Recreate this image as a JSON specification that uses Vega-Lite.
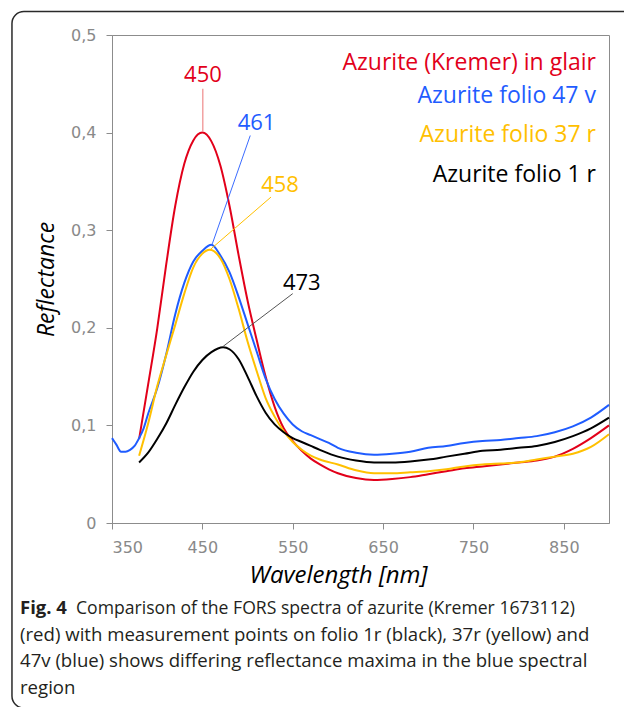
{
  "$schema": "https://vega.github.io/schema/vega-lite/v6.json",
  "width": 497,
  "height": 488,
  "autosize": {"type": "none"},
  "padding": {"left": 112, "top": 35, "right": 15, "bottom": 184},
  "background": "white",
  "config": {
    "view": {"stroke": "#8c8c8c", "strokeWidth": 1},
    "axis": {
      "grid": false,
      "domainColor": "#8c8c8c",
      "tickColor": "#8c8c8c",
      "tickSize": 6,
      "labelFont": "DejaVu Sans",
      "labelFontSize": 16,
      "labelColor": "#898989",
      "labelPadding": 10,
      "titleFont": "Open Sans",
      "titleFontSize": 23,
      "titleFontWeight": "normal",
      "titleFontStyle": "italic",
      "titleColor": "#000000"
    },
    "text": {"font": "Open Sans"}
  },
  "datasets": {
    "spectra": [
      {"series": "Azurite (Kremer) in glair", "wavelength": 380, "reflectance": 0.086},
      {"series": "Azurite (Kremer) in glair", "wavelength": 390, "reflectance": 0.142},
      {"series": "Azurite (Kremer) in glair", "wavelength": 400, "reflectance": 0.199},
      {"series": "Azurite (Kremer) in glair", "wavelength": 410, "reflectance": 0.265},
      {"series": "Azurite (Kremer) in glair", "wavelength": 420, "reflectance": 0.325},
      {"series": "Azurite (Kremer) in glair", "wavelength": 430, "reflectance": 0.368},
      {"series": "Azurite (Kremer) in glair", "wavelength": 440, "reflectance": 0.392},
      {"series": "Azurite (Kremer) in glair", "wavelength": 450, "reflectance": 0.400},
      {"series": "Azurite (Kremer) in glair", "wavelength": 460, "reflectance": 0.391},
      {"series": "Azurite (Kremer) in glair", "wavelength": 470, "reflectance": 0.366},
      {"series": "Azurite (Kremer) in glair", "wavelength": 480, "reflectance": 0.325},
      {"series": "Azurite (Kremer) in glair", "wavelength": 490, "reflectance": 0.275},
      {"series": "Azurite (Kremer) in glair", "wavelength": 500, "reflectance": 0.228},
      {"series": "Azurite (Kremer) in glair", "wavelength": 510, "reflectance": 0.188},
      {"series": "Azurite (Kremer) in glair", "wavelength": 520, "reflectance": 0.150},
      {"series": "Azurite (Kremer) in glair", "wavelength": 530, "reflectance": 0.119},
      {"series": "Azurite (Kremer) in glair", "wavelength": 540, "reflectance": 0.097},
      {"series": "Azurite (Kremer) in glair", "wavelength": 550, "reflectance": 0.084},
      {"series": "Azurite (Kremer) in glair", "wavelength": 560, "reflectance": 0.074},
      {"series": "Azurite (Kremer) in glair", "wavelength": 570, "reflectance": 0.066},
      {"series": "Azurite (Kremer) in glair", "wavelength": 580, "reflectance": 0.060},
      {"series": "Azurite (Kremer) in glair", "wavelength": 590, "reflectance": 0.055},
      {"series": "Azurite (Kremer) in glair", "wavelength": 600, "reflectance": 0.051},
      {"series": "Azurite (Kremer) in glair", "wavelength": 620, "reflectance": 0.046},
      {"series": "Azurite (Kremer) in glair", "wavelength": 640, "reflectance": 0.044},
      {"series": "Azurite (Kremer) in glair", "wavelength": 660, "reflectance": 0.045},
      {"series": "Azurite (Kremer) in glair", "wavelength": 680, "reflectance": 0.047},
      {"series": "Azurite (Kremer) in glair", "wavelength": 700, "reflectance": 0.050},
      {"series": "Azurite (Kremer) in glair", "wavelength": 720, "reflectance": 0.053},
      {"series": "Azurite (Kremer) in glair", "wavelength": 740, "reflectance": 0.056},
      {"series": "Azurite (Kremer) in glair", "wavelength": 760, "reflectance": 0.058},
      {"series": "Azurite (Kremer) in glair", "wavelength": 780, "reflectance": 0.060},
      {"series": "Azurite (Kremer) in glair", "wavelength": 800, "reflectance": 0.062},
      {"series": "Azurite (Kremer) in glair", "wavelength": 820, "reflectance": 0.064},
      {"series": "Azurite (Kremer) in glair", "wavelength": 840, "reflectance": 0.068},
      {"series": "Azurite (Kremer) in glair", "wavelength": 860, "reflectance": 0.076},
      {"series": "Azurite (Kremer) in glair", "wavelength": 880, "reflectance": 0.087},
      {"series": "Azurite (Kremer) in glair", "wavelength": 900, "reflectance": 0.100},

      {"series": "Azurite folio 47 v", "wavelength": 350, "reflectance": 0.087},
      {"series": "Azurite folio 47 v", "wavelength": 355, "reflectance": 0.080},
      {"series": "Azurite folio 47 v", "wavelength": 360, "reflectance": 0.073},
      {"series": "Azurite folio 47 v", "wavelength": 365, "reflectance": 0.073},
      {"series": "Azurite folio 47 v", "wavelength": 370, "reflectance": 0.075},
      {"series": "Azurite folio 47 v", "wavelength": 375, "reflectance": 0.079},
      {"series": "Azurite folio 47 v", "wavelength": 380, "reflectance": 0.087},
      {"series": "Azurite folio 47 v", "wavelength": 385, "reflectance": 0.097},
      {"series": "Azurite folio 47 v", "wavelength": 390, "reflectance": 0.112},
      {"series": "Azurite folio 47 v", "wavelength": 400, "reflectance": 0.138},
      {"series": "Azurite folio 47 v", "wavelength": 410, "reflectance": 0.173},
      {"series": "Azurite folio 47 v", "wavelength": 420, "reflectance": 0.214},
      {"series": "Azurite folio 47 v", "wavelength": 430, "reflectance": 0.246},
      {"series": "Azurite folio 47 v", "wavelength": 440, "reflectance": 0.268},
      {"series": "Azurite folio 47 v", "wavelength": 450, "reflectance": 0.279},
      {"series": "Azurite folio 47 v", "wavelength": 460, "reflectance": 0.285},
      {"series": "Azurite folio 47 v", "wavelength": 470, "reflectance": 0.274},
      {"series": "Azurite folio 47 v", "wavelength": 480, "reflectance": 0.257},
      {"series": "Azurite folio 47 v", "wavelength": 490, "reflectance": 0.232},
      {"series": "Azurite folio 47 v", "wavelength": 500, "reflectance": 0.204},
      {"series": "Azurite folio 47 v", "wavelength": 510, "reflectance": 0.176},
      {"series": "Azurite folio 47 v", "wavelength": 520, "reflectance": 0.148},
      {"series": "Azurite folio 47 v", "wavelength": 530, "reflectance": 0.127},
      {"series": "Azurite folio 47 v", "wavelength": 540, "reflectance": 0.112},
      {"series": "Azurite folio 47 v", "wavelength": 550, "reflectance": 0.101},
      {"series": "Azurite folio 47 v", "wavelength": 560, "reflectance": 0.094},
      {"series": "Azurite folio 47 v", "wavelength": 570, "reflectance": 0.090},
      {"series": "Azurite folio 47 v", "wavelength": 580, "reflectance": 0.086},
      {"series": "Azurite folio 47 v", "wavelength": 590, "reflectance": 0.082},
      {"series": "Azurite folio 47 v", "wavelength": 600, "reflectance": 0.077},
      {"series": "Azurite folio 47 v", "wavelength": 620, "reflectance": 0.072},
      {"series": "Azurite folio 47 v", "wavelength": 640, "reflectance": 0.070},
      {"series": "Azurite folio 47 v", "wavelength": 660, "reflectance": 0.071},
      {"series": "Azurite folio 47 v", "wavelength": 680, "reflectance": 0.073},
      {"series": "Azurite folio 47 v", "wavelength": 700, "reflectance": 0.077},
      {"series": "Azurite folio 47 v", "wavelength": 720, "reflectance": 0.079},
      {"series": "Azurite folio 47 v", "wavelength": 740, "reflectance": 0.082},
      {"series": "Azurite folio 47 v", "wavelength": 760, "reflectance": 0.084},
      {"series": "Azurite folio 47 v", "wavelength": 780, "reflectance": 0.085},
      {"series": "Azurite folio 47 v", "wavelength": 800, "reflectance": 0.087},
      {"series": "Azurite folio 47 v", "wavelength": 820, "reflectance": 0.089},
      {"series": "Azurite folio 47 v", "wavelength": 840, "reflectance": 0.093},
      {"series": "Azurite folio 47 v", "wavelength": 860, "reflectance": 0.099},
      {"series": "Azurite folio 47 v", "wavelength": 880, "reflectance": 0.108},
      {"series": "Azurite folio 47 v", "wavelength": 900, "reflectance": 0.121},

      {"series": "Azurite folio 37 r", "wavelength": 380, "reflectance": 0.069},
      {"series": "Azurite folio 37 r", "wavelength": 390, "reflectance": 0.102},
      {"series": "Azurite folio 37 r", "wavelength": 400, "reflectance": 0.140},
      {"series": "Azurite folio 37 r", "wavelength": 410, "reflectance": 0.172},
      {"series": "Azurite folio 37 r", "wavelength": 420, "reflectance": 0.203},
      {"series": "Azurite folio 37 r", "wavelength": 430, "reflectance": 0.235},
      {"series": "Azurite folio 37 r", "wavelength": 440, "reflectance": 0.262},
      {"series": "Azurite folio 37 r", "wavelength": 450, "reflectance": 0.276},
      {"series": "Azurite folio 37 r", "wavelength": 458, "reflectance": 0.280},
      {"series": "Azurite folio 37 r", "wavelength": 470, "reflectance": 0.271},
      {"series": "Azurite folio 37 r", "wavelength": 480, "reflectance": 0.250},
      {"series": "Azurite folio 37 r", "wavelength": 490, "reflectance": 0.220},
      {"series": "Azurite folio 37 r", "wavelength": 500, "reflectance": 0.186},
      {"series": "Azurite folio 37 r", "wavelength": 510, "reflectance": 0.156},
      {"series": "Azurite folio 37 r", "wavelength": 520, "reflectance": 0.128},
      {"series": "Azurite folio 37 r", "wavelength": 530, "reflectance": 0.109},
      {"series": "Azurite folio 37 r", "wavelength": 540, "reflectance": 0.094},
      {"series": "Azurite folio 37 r", "wavelength": 550, "reflectance": 0.083},
      {"series": "Azurite folio 37 r", "wavelength": 560, "reflectance": 0.075},
      {"series": "Azurite folio 37 r", "wavelength": 570, "reflectance": 0.069},
      {"series": "Azurite folio 37 r", "wavelength": 580, "reflectance": 0.065},
      {"series": "Azurite folio 37 r", "wavelength": 600, "reflectance": 0.060},
      {"series": "Azurite folio 37 r", "wavelength": 620, "reflectance": 0.054},
      {"series": "Azurite folio 37 r", "wavelength": 640, "reflectance": 0.051},
      {"series": "Azurite folio 37 r", "wavelength": 660, "reflectance": 0.051},
      {"series": "Azurite folio 37 r", "wavelength": 680, "reflectance": 0.052},
      {"series": "Azurite folio 37 r", "wavelength": 700, "reflectance": 0.053},
      {"series": "Azurite folio 37 r", "wavelength": 720, "reflectance": 0.055},
      {"series": "Azurite folio 37 r", "wavelength": 740, "reflectance": 0.058},
      {"series": "Azurite folio 37 r", "wavelength": 760, "reflectance": 0.060},
      {"series": "Azurite folio 37 r", "wavelength": 780, "reflectance": 0.061},
      {"series": "Azurite folio 37 r", "wavelength": 800, "reflectance": 0.062},
      {"series": "Azurite folio 37 r", "wavelength": 820, "reflectance": 0.065},
      {"series": "Azurite folio 37 r", "wavelength": 840, "reflectance": 0.068},
      {"series": "Azurite folio 37 r", "wavelength": 860, "reflectance": 0.071},
      {"series": "Azurite folio 37 r", "wavelength": 880, "reflectance": 0.078},
      {"series": "Azurite folio 37 r", "wavelength": 900, "reflectance": 0.091},

      {"series": "Azurite folio 1 r", "wavelength": 380, "reflectance": 0.062},
      {"series": "Azurite folio 1 r", "wavelength": 390, "reflectance": 0.072},
      {"series": "Azurite folio 1 r", "wavelength": 400, "reflectance": 0.086},
      {"series": "Azurite folio 1 r", "wavelength": 410, "reflectance": 0.102},
      {"series": "Azurite folio 1 r", "wavelength": 420, "reflectance": 0.121},
      {"series": "Azurite folio 1 r", "wavelength": 430, "reflectance": 0.139},
      {"series": "Azurite folio 1 r", "wavelength": 440, "reflectance": 0.155},
      {"series": "Azurite folio 1 r", "wavelength": 450, "reflectance": 0.167},
      {"series": "Azurite folio 1 r", "wavelength": 460, "reflectance": 0.175},
      {"series": "Azurite folio 1 r", "wavelength": 473, "reflectance": 0.180},
      {"series": "Azurite folio 1 r", "wavelength": 480, "reflectance": 0.178},
      {"series": "Azurite folio 1 r", "wavelength": 490, "reflectance": 0.168},
      {"series": "Azurite folio 1 r", "wavelength": 500, "reflectance": 0.150},
      {"series": "Azurite folio 1 r", "wavelength": 510, "reflectance": 0.130},
      {"series": "Azurite folio 1 r", "wavelength": 520, "reflectance": 0.113},
      {"series": "Azurite folio 1 r", "wavelength": 530, "reflectance": 0.101},
      {"series": "Azurite folio 1 r", "wavelength": 540, "reflectance": 0.093},
      {"series": "Azurite folio 1 r", "wavelength": 550, "reflectance": 0.087},
      {"series": "Azurite folio 1 r", "wavelength": 560, "reflectance": 0.083},
      {"series": "Azurite folio 1 r", "wavelength": 570, "reflectance": 0.079},
      {"series": "Azurite folio 1 r", "wavelength": 580, "reflectance": 0.075},
      {"series": "Azurite folio 1 r", "wavelength": 600, "reflectance": 0.068},
      {"series": "Azurite folio 1 r", "wavelength": 620, "reflectance": 0.064},
      {"series": "Azurite folio 1 r", "wavelength": 640, "reflectance": 0.062},
      {"series": "Azurite folio 1 r", "wavelength": 660, "reflectance": 0.062},
      {"series": "Azurite folio 1 r", "wavelength": 680, "reflectance": 0.063},
      {"series": "Azurite folio 1 r", "wavelength": 700, "reflectance": 0.065},
      {"series": "Azurite folio 1 r", "wavelength": 720, "reflectance": 0.068},
      {"series": "Azurite folio 1 r", "wavelength": 740, "reflectance": 0.071},
      {"series": "Azurite folio 1 r", "wavelength": 760, "reflectance": 0.074},
      {"series": "Azurite folio 1 r", "wavelength": 780, "reflectance": 0.075},
      {"series": "Azurite folio 1 r", "wavelength": 800, "reflectance": 0.077},
      {"series": "Azurite folio 1 r", "wavelength": 820, "reflectance": 0.079},
      {"series": "Azurite folio 1 r", "wavelength": 840, "reflectance": 0.083},
      {"series": "Azurite folio 1 r", "wavelength": 860, "reflectance": 0.089},
      {"series": "Azurite folio 1 r", "wavelength": 880, "reflectance": 0.097},
      {"series": "Azurite folio 1 r", "wavelength": 900, "reflectance": 0.108}
    ]
  },
  "data": {"values": [{}]},
  "layer": [
    {
      "data": {"name": "spectra"},
      "mark": {"type": "line", "interpolate": "monotone", "strokeWidth": 2},
      "encoding": {
        "x": {
          "field": "wavelength", "type": "quantitative",
          "scale": {"domain": [350, 900], "nice": false, "zero": false},
          "axis": {"title": "Wavelength [nm]", "values": [350, 450, 550, 650, 750, 850], "titleX": 226, "titleY": 59, "titleBaseline": "alphabetic", "titleFontSize": 24}
        },
        "y": {
          "field": "reflectance", "type": "quantitative",
          "scale": {"domain": [0, 0.5], "nice": false, "zero": false},
          "axis": {"title": "Reflectance", "values": [0, 0.1, 0.2, 0.3, 0.4, 0.5], "format": ".1~f", "labelExpr": "replace(datum.label, '.', ',')", "titleX": -66, "titleY": 244, "titleBaseline": "middle", "titleAngle": -90}
        },
        "color": {
          "field": "series", "type": "nominal",
          "scale": {
            "domain": ["Azurite folio 1 r", "Azurite folio 37 r", "Azurite folio 47 v", "Azurite (Kremer) in glair"],
            "range": ["#000000", "#ffc000", "#1f5cff", "#e2001a"]
          },
          "legend": null
        }
      }
    },
    {
      "mark": {"type": "rect", "fillOpacity": 0, "stroke": "#2a2a2a", "strokeWidth": 1.5, "cornerRadius": 12, "clip": false},
      "encoding": {
        "x": {"datum": 239.3, "type": "quantitative"},
        "x2": {"datum": 934},
        "y": {"datum": 0.5241, "type": "quantitative"},
        "y2": {"datum": -0.1896}
      }
    },
    {
      "mark": {"type": "rule", "color": "#ef8a8a", "strokeWidth": 1.2},
      "encoding": {
        "x": {"datum": 450.5, "type": "quantitative"},
        "y": {"datum": 0.401, "type": "quantitative"},
        "y2": {"datum": 0.445}
      }
    },
    {
      "mark": {"type": "rule", "color": "#3b6cff", "strokeWidth": 1},
      "encoding": {
        "x": {"datum": 461, "type": "quantitative"},
        "y": {"datum": 0.286, "type": "quantitative"},
        "x2": {"datum": 503},
        "y2": {"datum": 0.397}
      }
    },
    {
      "mark": {"type": "rule", "color": "#ffc000", "strokeWidth": 1},
      "encoding": {
        "x": {"datum": 458.5, "type": "quantitative"},
        "y": {"datum": 0.28, "type": "quantitative"},
        "x2": {"datum": 526},
        "y2": {"datum": 0.334}
      }
    },
    {
      "mark": {"type": "rule", "color": "#555555", "strokeWidth": 1},
      "encoding": {
        "x": {"datum": 473, "type": "quantitative"},
        "y": {"datum": 0.181, "type": "quantitative"},
        "x2": {"datum": 550},
        "y2": {"datum": 0.235}
      }
    },
    {
      "mark": {"type": "text", "text": "450", "color": "#e2001a", "fontSize": 22, "align": "center", "baseline": "alphabetic"},
      "encoding": {"x": {"datum": 450.7, "type": "quantitative"}, "y": {"datum": 0.452, "type": "quantitative"}}
    },
    {
      "mark": {"type": "text", "text": "461", "color": "#1f5cff", "fontSize": 22, "align": "center", "baseline": "alphabetic"},
      "encoding": {"x": {"datum": 510, "type": "quantitative"}, "y": {"datum": 0.4027, "type": "quantitative"}}
    },
    {
      "mark": {"type": "text", "text": "458", "color": "#ffc000", "fontSize": 22, "align": "center", "baseline": "alphabetic"},
      "encoding": {"x": {"datum": 536, "type": "quantitative"}, "y": {"datum": 0.3395, "type": "quantitative"}}
    },
    {
      "mark": {"type": "text", "text": "473", "color": "#000000", "fontSize": 22, "align": "center", "baseline": "alphabetic"},
      "encoding": {"x": {"datum": 560, "type": "quantitative"}, "y": {"datum": 0.2387, "type": "quantitative"}}
    },
    {
      "mark": {"type": "text", "text": "Azurite (Kremer) in glair", "color": "#e2001a", "fontSize": 23, "align": "right", "baseline": "alphabetic"},
      "encoding": {"x": {"datum": 885.6, "type": "quantitative"}, "y": {"datum": 0.464, "type": "quantitative"}}
    },
    {
      "mark": {"type": "text", "text": "Azurite folio 47 v", "color": "#1f5cff", "fontSize": 23, "align": "right", "baseline": "alphabetic"},
      "encoding": {"x": {"datum": 885.6, "type": "quantitative"}, "y": {"datum": 0.4303, "type": "quantitative"}}
    },
    {
      "mark": {"type": "text", "text": "Azurite folio 37 r", "color": "#ffc000", "fontSize": 23, "align": "right", "baseline": "alphabetic"},
      "encoding": {"x": {"datum": 885.6, "type": "quantitative"}, "y": {"datum": 0.390, "type": "quantitative"}}
    },
    {
      "mark": {"type": "text", "text": "Azurite folio 1 r", "color": "#000000", "fontSize": 23, "align": "right", "baseline": "alphabetic"},
      "encoding": {"x": {"datum": 885.6, "type": "quantitative"}, "y": {"datum": 0.349, "type": "quantitative"}}
    },
    {
      "mark": {"type": "text", "text": "Fig. 4", "color": "#231f20", "fontSize": 18.5, "fontWeight": "bold", "align": "left", "baseline": "alphabetic"},
      "encoding": {"x": {"datum": 248.2, "type": "quantitative"}, "y": {"datum": -0.0932, "type": "quantitative"}}
    },
    {
      "mark": {"type": "text", "text": "Comparison of the FORS spectra of azurite (Kremer 1673112)", "color": "#231f20", "fontSize": 17.6, "align": "left", "baseline": "alphabetic"},
      "encoding": {"x": {"datum": 310.2, "type": "quantitative"}, "y": {"datum": -0.0932, "type": "quantitative"}}
    },
    {
      "mark": {"type": "text", "text": ["(red) with measurement points on folio 1r (black), 37r (yellow) and", "47v (blue) shows differing reflectance maxima in the blue spectral", "region"], "lineHeight": 26.3, "color": "#231f20", "fontSize": 18.6, "align": "left", "baseline": "alphabetic"},
      "encoding": {"x": {"datum": 248.2, "type": "quantitative"}, "y": {"datum": -0.1209, "type": "quantitative"}}
    }
  ]
}
